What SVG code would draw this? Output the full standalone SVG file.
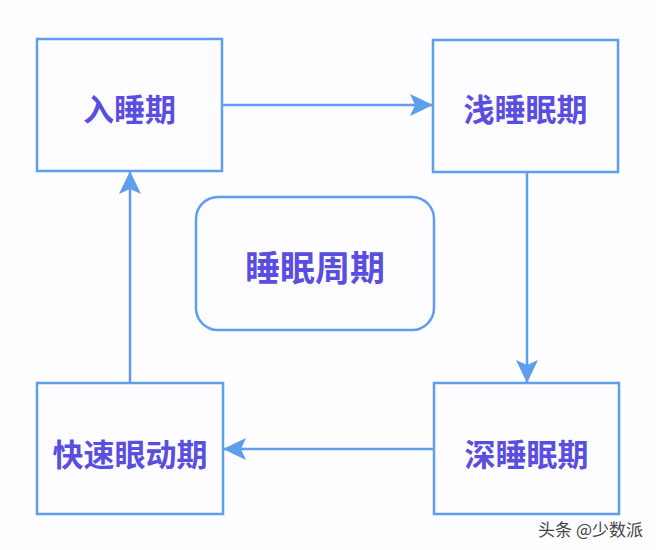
<svg xmlns="http://www.w3.org/2000/svg" width="656" height="550" viewBox="0 0 656 550">
<style>
.box{fill:#fdfcff;stroke:#5f9ded;stroke-width:2.5}
.lbl{font-family:"Noto Sans CJK SC","Noto Sans",sans-serif;font-size:31px;font-weight:bold;fill:#5a4ee0;text-anchor:middle;dominant-baseline:central}
.con{stroke:#5f9ded;stroke-width:2.5;fill:none}
</style>
<defs>
<marker id="ah" viewBox="0 0 24 24" refX="22" refY="12" markerWidth="24" markerHeight="24" markerUnits="userSpaceOnUse" orient="auto">
<path d="M0,1 L23,12 L0,23 L5,12 Z" fill="#5f9ded"/>
</marker>
</defs>
<rect width="656" height="550" fill="#fefdff"/>
<g id="connectors">
<line class="con" x1="223" y1="105" x2="432" y2="105" marker-end="url(#ah)"/>
<line class="con" x1="527" y1="172" x2="527" y2="382" marker-end="url(#ah)"/>
<line class="con" x1="434" y1="449" x2="224" y2="449" marker-end="url(#ah)"/>
<line class="con" x1="130" y1="383" x2="130" y2="172" marker-end="url(#ah)"/>
</g>
<g id="n1"><rect class="box" x="37" y="39" width="185" height="132"/><text class="lbl" x="129.5" y="107">入睡期</text></g>
<g id="n2"><rect class="box" x="433" y="40" width="185" height="132"/><text class="lbl" x="525.5" y="107">浅睡眠期</text></g>
<g id="n3"><rect class="box" x="434" y="383" width="185" height="131"/><text class="lbl" x="526.5" y="452">深睡眠期</text></g>
<g id="n4"><rect class="box" x="37" y="383" width="186" height="131"/><text class="lbl" x="130" y="452">快速眼动期</text></g>
<g id="center"><rect class="box" x="196" y="197" width="238" height="133" rx="22"/><text class="lbl" x="315" y="265" style="font-size:35px">睡眠周期</text></g>
<text x="643" y="528" style="font-family:'Noto Sans CJK SC',sans-serif;font-size:17px;fill:#444;text-anchor:end;dominant-baseline:central">头条 @少数派</text>
</svg>
